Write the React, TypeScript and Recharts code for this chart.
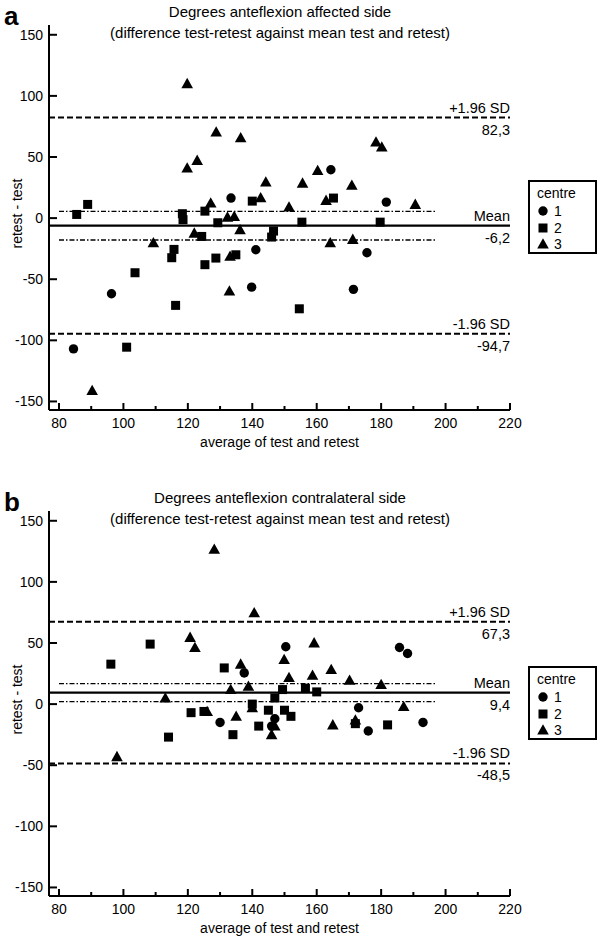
import React from "react";
import {
  ScatterChart,
  Scatter,
  XAxis,
  YAxis,
  ReferenceLine,
  Legend,
} from "recharts";

// panel a: affected side, [average, difference]
const aCentre1 = [
  [84.5, -107], [96.3, -61.9], [133.4, 16.4], [139.8, -56.5], [141.1, -25.9],
  [164.4, 39.6], [171.4, -58.3], [175.6, -28.3], [181.6, 13.1],
];
const aCentre2 = [
  [85.5, 3], [88.9, 11.2], [101, -105.6], [103.6, -44.7], [115, -32.4],
  [115.7, -25.6], [116.2, -71.4], [118.3, 3.6], [118.5, -1.3], [124.3, -15],
  [125.3, 5.7], [125.3, -38.1], [128.7, -32.7], [129.3, -3.8], [134.9, -30],
  [140, 13.9], [146, -15.5], [146.6, -10.6], [154.6, -74.2], [155.4, -3.3],
  [165.2, 16.4], [179.7, -3.3],
];
const aCentre3 = [
  [90.3, -141], [109.3, -20.2], [119.8, 110], [119.8, 40.9], [122, -12.3],
  [122.9, 47.2], [127.1, 12.3], [128.8, 70.4], [132.3, 0.8], [132.9, -59.7],
  [133.1, -31.3], [134.4, 1.4], [136.2, -9.5], [136.4, 65.8], [142.6, 16.7],
  [144.2, 29.5], [151.4, 9], [155.6, 28.6], [160.3, 39], [162.9, 14.5],
  [164.2, -20.1], [170.9, 26.8], [171.2, -17.4], [178.4, 62.2], [180.2, 58.1],
  [190.6, 11.2],
];

// panel b: contralateral side
const bCentre1 = [
  [137.5, 25.5], [150.4, 46.9], [185.7, 46.3], [188.2, 41.4],
  [130, -15], [146, -18], [147, -12], [173, -3], [176, -22], [193, -15],
];
const bCentre2 = [
  [96.1, 32.7], [108.3, 49.1], [131.3, 29.6], [149.4, 11.9], [156.5, 13],
  [114, -27], [121, -7], [125, -6], [134, -25], [142, -18], [145, -5],
  [150, -5], [152, -10], [160, 10], [172, -16], [182, -17], [140, 0], [147, 5],
];
const bCentre3 = [
  [128.2, 126.7], [140.6, 74.7], [120.7, 54.6], [122.2, 46.3], [149.9, 36.5],
  [151.4, 21.7], [136.4, 32.7], [138.8, 14.6], [133.3, 11.9], [159.2, 50.1],
  [164.5, 28.3], [158.7, 23.6], [170.2, 19.5],
  [98, -43], [113, 5], [126, -6], [135, -10], [140, -3], [146, -25],
  [147, -18], [165, -17], [172, -13], [187, -2], [180, 16],
];

// limits of agreement: upper, mean, lower, mean CI upper, mean CI lower
const aLimits = [82.3, -6.2, -94.7, 5.5, -17.9];
const bLimits = [67.3, 9.4, -48.5, 16.8, 2.0];
const ciRange = [80, 197];

const xTicks = [80, 90, 100, 110, 120, 130, 140, 150, 160, 170, 180, 190, 200, 210, 220];
const yTicks = [-150, -100, -50, 0, 50, 100, 150];
const centres = ["1", "2", "3"];

const FONT = "'Liberation Sans', Arial, sans-serif";

const toPoints = (arr: number[][]) => arr.map(([x, y]) => ({ x, y }));
const fmt = (v: number) => v.toFixed(1).replace(".", ",");

const CircleMark = (p: any) => <circle cx={p.cx} cy={p.cy} r={4.7} fill="#000" />;
const SquareMark = (p: any) => (
  <rect x={p.cx - 4.5} y={p.cy - 4.5} width={9} height={9} fill="#000" />
);
const TriangleMark = (p: any) => (
  <polygon
    points={`${p.cx},${p.cy - 5.8} ${p.cx - 5.8},${p.cy + 4.5} ${p.cx + 5.8},${p.cy + 4.5}`}
    fill="#000"
  />
);
const marks = [CircleMark, SquareMark, TriangleMark];

const XTick = (p: any) => {
  const v = p.payload.value;
  const major = v % 20 === 0;
  return (
    <g>
      <line x1={p.x} x2={p.x} y1={p.y} y2={p.y - (major ? 7 : 4)} stroke="#000" strokeWidth={2} />
      {major && (
        <text x={p.x} y={p.y + 18} textAnchor="middle" fontSize={14} fontFamily={FONT} fill="#000">
          {v}
        </text>
      )}
    </g>
  );
};

const YTick = (p: any) => (
  <g>
    <line x1={p.x} x2={p.x + 8} y1={p.y} y2={p.y} stroke="#000" strokeWidth={2} />
    <text x={p.x - 6} y={p.y + 5} textAnchor="end" fontSize={14} fontFamily={FONT} fill="#000">
      {p.payload.value}
    </text>
  </g>
);

const YTitle = (p: any) => {
  const vb = p.viewBox;
  const cx = vb.x + 17;
  const cy = vb.y + vb.height / 2 - 4;
  return (
    <text
      x={cx}
      y={cy}
      transform={`rotate(-90 ${cx} ${cy})`}
      textAnchor="middle"
      dominantBaseline="central"
      fontSize={14}
      fontFamily={FONT}
      fill="#000"
    >
      retest - test
    </text>
  );
};

const LineLabel = (p: any) => {
  const { viewBox, top, bottom } = p;
  const xr = viewBox.x + viewBox.width;
  return (
    <g fontSize={14.5} fontFamily={FONT} fill="#000">
      <text x={xr} y={viewBox.y - 5} textAnchor="end">{top}</text>
      <text x={xr} y={viewBox.y + 17} textAnchor="end">{bottom}</text>
    </g>
  );
};

const LegendBox = () => (
  <div
    style={{
      width: 65,
      height: 70,
      border: "2px solid #000",
      background: "#fff",
      fontFamily: FONT,
      fontSize: 14,
      position: "relative",
    }}
  >
    <div style={{ position: "absolute", left: 7, top: 3 }}>centre</div>
    {centres.map((c, i) => (
      <div key={c} style={{ position: "absolute", left: 7, top: 21 + i * 16.5, height: 16 }}>
        <svg width={12} height={14} style={{ position: "absolute", left: 0, top: 1 }}>
          {React.createElement(marks[i], { cx: 6, cy: 7 })}
        </svg>
        <span style={{ position: "absolute", left: 17, top: 0 }}>{c}</span>
      </div>
    ))}
  </div>
);

type PanelProps = {
  letter: string;
  title1: string;
  title2: string;
  series: number[][][];
  limits: number[];
  top: number;
};

const Panel = ({ letter, title1, title2, series, limits, top }: PanelProps) => {
  const [upper, mean, lower, ciHi, ciLo] = limits;
  return (
    <div style={{ position: "absolute", left: 0, top, width: 600, height: 452 }}>
      <div
        style={{
          position: "absolute",
          left: 4,
          top: 2,
          fontFamily: FONT,
          fontWeight: "bold",
          fontSize: 26,
          lineHeight: "28px",
        }}
      >
        {letter}
      </div>
      <div
        style={{
          position: "absolute",
          left: 50,
          width: 460,
          top: 1,
          textAlign: "center",
          fontFamily: FONT,
          fontSize: 15,
          lineHeight: "21px",
        }}
      >
        {title1}
        <br />
        {title2}
      </div>
      <ScatterChart width={600} height={452} margin={{ top: 25, right: 90, bottom: 0, left: 0 }}>
        <XAxis
          type="number"
          dataKey="x"
          domain={[76.9, 220]}
          ticks={xTicks}
          interval={0}
          tickSize={0}
          tickMargin={0}
          tickLine={false}
          tick={<XTick />}
          height={42}
          axisLine={{ stroke: "#000", strokeWidth: 2 }}
          label={{
            value: "average of test and retest",
            position: "insideBottom",
            offset: 5,
            fontSize: 14,
            fontFamily: FONT,
            fill: "#000",
          }}
        />
        <YAxis
          type="number"
          dataKey="y"
          domain={[-157, 158]}
          ticks={yTicks}
          interval={0}
          tickSize={0}
          tickMargin={0}
          tickLine={false}
          tick={<YTick />}
          width={49}
          axisLine={{ stroke: "#000", strokeWidth: 2 }}
          label={<YTitle />}
        />
        <ReferenceLine
          segment={[{ x: ciRange[0], y: ciHi }, { x: ciRange[1], y: ciHi }]}
          stroke="#000"
          strokeWidth={1.3}
          strokeDasharray="5 2 1.5 2"
        />
        <ReferenceLine
          segment={[{ x: ciRange[0], y: ciLo }, { x: ciRange[1], y: ciLo }]}
          stroke="#000"
          strokeWidth={1.3}
          strokeDasharray="5 2 1.5 2"
        />
        <ReferenceLine
          y={upper}
          stroke="#000"
          strokeWidth={2}
          strokeDasharray="6 3"
          label={<LineLabel top="+1.96 SD" bottom={fmt(upper)} />}
        />
        <ReferenceLine
          y={mean}
          stroke="#000"
          strokeWidth={2.2}
          label={<LineLabel top="Mean" bottom={fmt(mean)} />}
        />
        <ReferenceLine
          y={lower}
          stroke="#000"
          strokeWidth={2}
          strokeDasharray="6 3"
          label={<LineLabel top="-1.96 SD" bottom={fmt(lower)} />}
        />
        {series.map((s, i) => (
          <Scatter
            key={centres[i]}
            name={centres[i]}
            data={toPoints(s)}
            fill="#000"
            shape={marks[i]}
            isAnimationActive={false}
          />
        ))}
        <Legend
          layout="vertical"
          align="center"
          verticalAlign="middle"
          content={() => <LegendBox />}
          wrapperStyle={{ left: 528, top: 180, width: 69, height: 74 }}
        />
      </ScatterChart>
    </div>
  );
};

export default function App() {
  return (
    <div style={{ position: "absolute", left: 0, top: 0, width: 600, height: 938, background: "#fff" }}>
      <Panel
        letter="a"
        title1="Degrees anteflexion affected side"
        title2="(difference test-retest against mean test and retest)"
        series={[aCentre1, aCentre2, aCentre3]}
        limits={aLimits}
        top={0}
      />
      <Panel
        letter="b"
        title1="Degrees anteflexion contralateral side"
        title2="(difference test-retest against mean test and retest)"
        series={[bCentre1, bCentre2, bCentre3]}
        limits={bLimits}
        top={486}
      />
    </div>
  );
}
